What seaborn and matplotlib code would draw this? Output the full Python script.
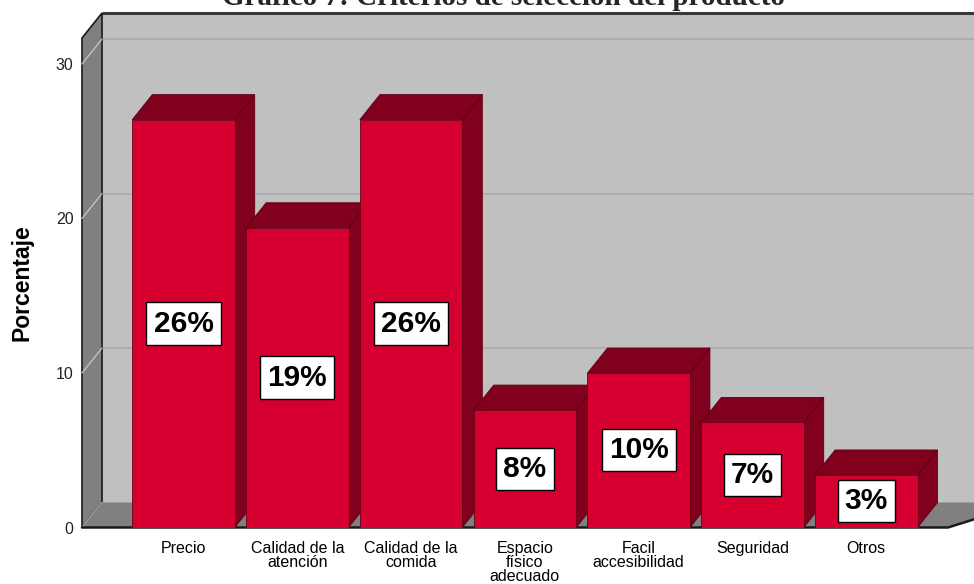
import matplotlib
matplotlib.use("Agg")
import matplotlib.pyplot as plt
import seaborn as sns
import numpy as np
import pandas as pd
from matplotlib.patches import Polygon

# ---- data ----
categories = ["Precio", "Calidad de la\natención", "Calidad de la\ncomida",
              "Espacio\nfísico\nadecuado", "Facil\naccesibilidad", "Seguridad", "Otros"]
percentages = [26.4, 19.4, 26.4, 7.6, 10.0, 6.8, 3.4]
yticks = [0, 10, 20, 30]
title = "Gráfico 7: Criterios de selección del producto"
ylabel = "Porcentaje"

sns.set_theme(style="white")
plt.rcParams["font.family"] = ["Liberation Sans", "DejaVu Sans"]

W, H = 974, 584
fig = plt.figure(figsize=(W / 100, H / 100), dpi=100)

# front plane of the 3D box (pixels)
px_left, px_right = 82, 948
px_zero, px_top = 527.5, 38
ax = fig.add_axes([px_left / W, 1 - px_zero / H,
                   (px_right - px_left) / W, (px_zero - px_top) / H])

FRONT = "#D5002F"
DARK = "#80001E"
WALL = "#C0C0C0"
SIDE = "#808080"

df = pd.DataFrame({"cat": categories, "pct": percentages})
sns.barplot(data=df, x="cat", y="pct", color=FRONT, saturation=1, width=0.9,
            edgecolor="#6a0018", linewidth=0.6, ax=ax, zorder=3)
bars = list(ax.patches)

# axis scales (front plane)
px_per_x = 113.8
xmin = (px_left - 183.5) / px_per_x
xmax = (px_right - 183.5) / px_per_x
ymax = (px_zero - px_top) / 15.45
ax.set_xlim(xmin, xmax)
ax.set_ylim(0, ymax)

# depth offset converted from pixels to data units via the axes transform
fig.canvas.draw()
inv = ax.transData.inverted()
p0 = ax.transData.transform((0, 0))
d = inv.transform(p0 + np.array([20.0, 25.0]))
ddx, ddy = d[0], d[1]
far = xmax + 2.0
floor_back_right = xmax + 0.7

# back wall
ax.add_patch(Polygon([(xmin + ddx, ddy), (far, ddy), (far, ymax + ddy), (xmin + ddx, ymax + ddy)],
                     closed=True, fc=WALL, ec="none", zorder=0.5, clip_on=False))
ax.plot([xmin + ddx, far], [ymax + ddy, ymax + ddy], color="#3a3a3a", lw=2.2,
        zorder=0.55, clip_on=False, solid_capstyle="butt")
# gridlines on back wall
for v in yticks[1:]:
    ax.plot([xmin + ddx, far], [v + ddy, v + ddy], color="#ababab", lw=1.2,
            zorder=0.6, clip_on=False)
# left wall
ax.add_patch(Polygon([(xmin, 0), (xmin, ymax), (xmin + ddx, ymax + ddy), (xmin + ddx, ddy)],
                     closed=True, fc=SIDE, ec="#1a1a1a", lw=1.2, zorder=0.7, clip_on=False))
for v in yticks:
    ax.plot([xmin, xmin + ddx], [v, v + ddy], color="#c8c8c8", lw=0.9,
            zorder=0.75, clip_on=False)
# floor
ax.add_patch(Polygon([(xmin, 0), (xmax, 0), (floor_back_right, ddy), (xmin + ddx, ddy)],
                     closed=True, fc=SIDE, ec="none", zorder=0.8, clip_on=False))
ax.plot([xmin, xmax, floor_back_right], [0, 0, ddy],
        color="#1a1a1a", lw=1.8, zorder=0.85, clip_on=False)

# 3D bars: side and top faces
for i, b in enumerate(bars):
    x0 = b.get_x()
    x1 = x0 + b.get_width()
    h = b.get_height()
    b.set_zorder(3 + 2 * i)
    side = Polygon([(x1, 0), (x1, h), (x1 + ddx, h + ddy), (x1 + ddx, ddy)], closed=True,
                   fc=DARK, ec="#5a0014", lw=0.6, zorder=2 + 2 * i, clip_on=False)
    top = Polygon([(x0, h), (x1, h), (x1 + ddx, h + ddy), (x0 + ddx, h + ddy)], closed=True,
                  fc=DARK, ec="#5a0014", lw=0.6, zorder=2 + 2 * i, clip_on=False)
    ax.add_patch(side)
    ax.add_patch(top)
    ax.text(x0 + b.get_width() / 2, h / 2, f"{h:.0f}%", ha="center", va="center",
            fontsize=21.5, fontweight="bold", color="black", zorder=40,
            bbox=dict(boxstyle="square,pad=0.24", fc="white", ec="black", lw=1.0))

# axes cosmetics
for s in ax.spines.values():
    s.set_visible(False)
ax.patch.set_visible(False)
ax.set_yticks(yticks)
ax.set_yticklabels([str(t) for t in yticks], fontsize=11.5, color="#222222")
ax.tick_params(axis="y", length=0, pad=6)
ax.tick_params(axis="x", length=0, pad=10, labelsize=11.5, labelcolor="black")
ax.set_xticks(range(len(categories)))
ax.set_xticklabels(categories, va="top")
for t in ax.get_xticklabels():
    t.set_linespacing(0.92)
ax.set_xlabel("")
ax.set_ylabel(ylabel, fontsize=16.5, fontweight="bold", color="black")
ax.yaxis.set_label_coords((22 - px_left) / (px_right - px_left), 0.5)
ax.yaxis.label.set_va("center")

fig.text(0.517, 1 - 5 / H, title, ha="center", va="baseline",
         fontsize=21, fontweight="bold", family=["Liberation Serif", "DejaVu Serif"])

fig.savefig("out.png", dpi=100)
